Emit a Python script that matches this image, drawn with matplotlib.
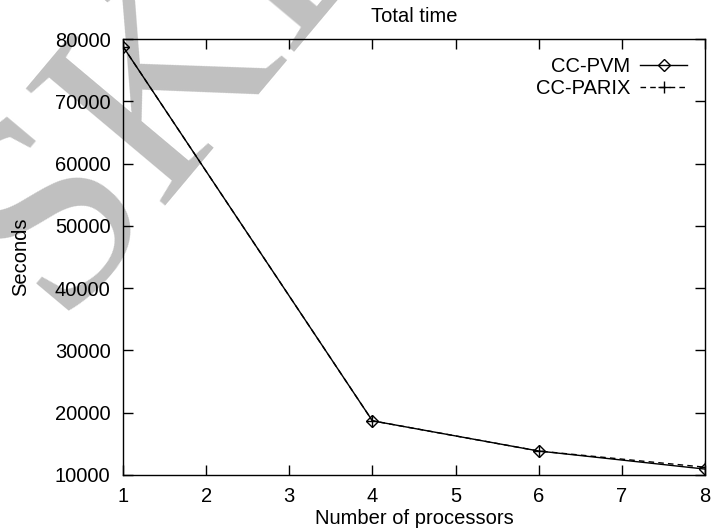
import numpy as np
import matplotlib as mpl
import matplotlib.pyplot as plt

mpl.rcParams['font.family'] = ['Liberation Sans', 'DejaVu Sans']

# processors vs. total run time
procs = [1, 4, 6, 8]
pvm_time = [78800, 18700, 13850, 10950]
parix_time = [78800, 18700, 13850, 11250]

fig = plt.figure(figsize=(7.12, 5.28), dpi=100)

# grey watermark behind everything
fig.text(-0.13, 0.33, 'SKETCH', family='Liberation Serif', fontsize=200,
         color='#c0c0c0', rotation=50, ha='left', va='bottom', zorder=-5)

ax = fig.add_axes([0.1728, 0.1004, 0.8172, 0.8256])
ax.patch.set_alpha(0)

ax.plot(procs, pvm_time, color='black', lw=1, marker='D', ms=6,
        mfc='none', mec='black', mew=1, label='CC-PVM')
ax.plot(procs, parix_time, color='black', lw=1, ls=(0, (4, 3)), marker='+',
        ms=9, mew=1, label='CC-PARIX')

ax.set_xlim(1, 8)
ax.set_ylim(10000, 80000)
ax.set_xticks(np.arange(1, 9))
ax.set_yticks(np.arange(10000, 80001, 10000))
ax.tick_params(direction='in', length=7, width=1, top=True, right=True,
               labelsize=14.5, pad=9)
for s in ax.spines.values():
    s.set_linewidth(1)

ax.set_title('Total time', fontsize=14.5, pad=12)
ax.set_xlabel('Number of processors', fontsize=14.5, labelpad=2)
ax.set_ylabel('Seconds', fontsize=14.5, labelpad=18)

ax.legend(loc='upper right', frameon=False, markerfirst=False, fontsize=14.5,
          handlelength=2.3, handletextpad=0.5, labelspacing=0.15,
          borderaxespad=0.5)

fig.savefig('out.png', dpi=100)
